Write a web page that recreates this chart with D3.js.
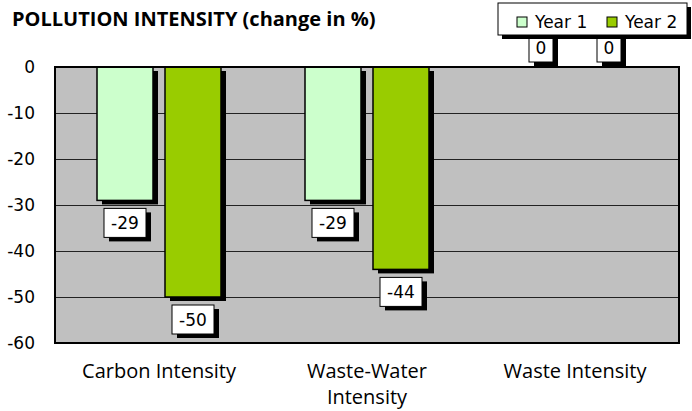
<!DOCTYPE html>
<html>
<head>
<meta charset="utf-8">
<script src="https://cdn.jsdelivr.net/npm/d3@7"></script>
<style>
  body { margin: 0; background: #fff; }
  svg { display: block; }
</style>
</head>
<body>
<div id="chart"></div>
<script>
// data
const categories = [["Carbon Intensity"], ["Waste-Water", "Intensity"], ["Waste Intensity"]]
const catKeys = ["Carbon Intensity", "Waste-Water Intensity", "Waste Intensity"]
const seriesNames = ["Year 1", "Year 2"]
const year1 = [-29, -29, 0]
const year2 = [-50, -44, 0]
const yTicks = [0, -10, -20, -30, -40, -50, -60]
const colors = ["#ccffcc", "#99cc00"]

const W = 692, H = 411
const plot = {left: 55, right: 679, top: 67, bottom: 343}

const svg = d3.select('#chart').append('svg')
    .attr('width', W).attr('height', H)

const x0 = d3.scaleBand().domain(catKeys).range([plot.left, plot.right]).padding(0)
const x1 = d3.scaleBand().domain(seriesNames).range([42, 166]).paddingInner(0.1765).paddingOuter(0)
const y = d3.scaleLinear().domain([0, -60]).range([plot.top, plot.bottom])

// title
svg.append('text')
    .attr('x', 12).attr('y', 26)
    .style('font-family', 'Open Sans').style('font-weight', 'bold').style('font-size', '20px')
    .text('POLLUTION INTENSITY (change in %)')

// plot background
svg.append('rect')
    .attr('x', plot.left).attr('y', plot.top)
    .attr('width', plot.right - plot.left).attr('height', plot.bottom - plot.top)
    .attr('fill', '#c0c0c0')

// gridlines + axis labels
const yAxis = svg.append('g')
    .attr('transform', 'translate(' + plot.left + ',0)')
    .call(d3.axisLeft(y).tickValues(yTicks).tickFormat(d => String(d))
        .tickSize(-(plot.right - plot.left)).tickPadding(20))
yAxis.select('.domain').remove()
yAxis.selectAll('.tick line').attr('stroke', '#222').attr('stroke-width', 1)
yAxis.selectAll('.tick text')
    .style('font-family', 'DejaVu Sans').style('font-size', '17px').attr('fill', '#000')

const data = catKeys.map((c, i) => ({cat: c, vals: [year1[i], year2[i]]}))

const groups = svg.append('g').selectAll('g')
    .data(data).enter().append('g')
    .attr('transform', d => 'translate(' + x0(d.cat) + ',0)')

const bars = groups.selectAll('g.bar')
    .data(d => d.vals.map((v, j) => ({v: v, s: seriesNames[j], j: j})))
    .enter().append('g').attr('class', 'bar')

// bar shadow
bars.filter(d => d.v != 0).append('rect')
    .attr('x', d => x1(d.s) + 5)
    .attr('y', d => y(0) + 4)
    .attr('width', x1.bandwidth())
    .attr('height', d => y(d.v) - y(0))
    .attr('fill', '#000')
bars.filter(d => d.v != 0).append('rect')
    .attr('x', d => x1(d.s))
    .attr('y', d => y(0))
    .attr('width', x1.bandwidth())
    .attr('height', d => y(d.v) - y(0))
    .attr('fill', d => colors[d.j])
    .attr('stroke', '#000').attr('stroke-width', 1.5)

// plot border
svg.append('rect')
    .attr('x', plot.left).attr('y', plot.top)
    .attr('width', plot.right - plot.left).attr('height', plot.bottom - plot.top)
    .attr('fill', 'none').attr('stroke', '#000').attr('stroke-width', 2)

// data labels
bars.each(function(d) {
    const g = d3.select(this)
    const cx = x1(d.s) + x1.bandwidth() / 2
    const bw = d.v == 0 ? 24 : 42, bh = 29
    const top = d.v < 0 ? y(d.v) + 8 : y(0) - 5 - bh
    g.append('rect').attr('x', cx - bw / 2 + 5).attr('y', top + 4)
        .attr('width', bw).attr('height', bh).attr('fill', '#000')
    g.append('rect').attr('x', cx - bw / 2).attr('y', top)
        .attr('width', bw).attr('height', bh).attr('fill', '#fff')
        .attr('stroke', '#000').attr('stroke-width', 1)
    g.append('text').attr('x', cx).attr('y', top + bh / 2 + 6)
        .attr('text-anchor', 'middle')
        .style('font-family', 'DejaVu Sans').style('font-size', '17px')
        .text(d.v)
})

// category labels
categories.forEach((lines, i) => {
    const t = svg.append('text')
        .attr('x', x0(catKeys[i]) + x0.bandwidth() / 2).attr('y', 378)
        .attr('text-anchor', 'middle')
        .style('font-family', 'Open Sans').style('font-size', '20px')
    lines.forEach((l, k) => {
        t.append('tspan').attr('x', x0(catKeys[i]) + x0.bandwidth() / 2)
            .attr('dy', k == 0 ? 0 : 26).text(l)
    })
})

// legend (drawn on top)
const lg = svg.append('g').attr('transform', 'translate(498,3)')
lg.append('rect').attr('x', 4).attr('y', 4).attr('width', 189).attr('height', 32).attr('fill', '#000')
lg.append('rect').attr('x', 0).attr('y', 0).attr('width', 189).attr('height', 32)
    .attr('fill', '#fff').attr('stroke', '#000').attr('stroke-width', 1)
seriesNames.forEach((s, j) => {
    const ox = 19 + j * 90
    lg.append('rect').attr('x', ox).attr('y', 14).attr('width', 10).attr('height', 10)
        .attr('fill', colors[j]).attr('stroke', '#000').attr('stroke-width', 1)
    lg.append('text').attr('x', ox + 18).attr('y', 25)
        .style('font-family', 'DejaVu Sans').style('font-size', '17px')
        .text(s)
})
</script>
</body>
</html>
